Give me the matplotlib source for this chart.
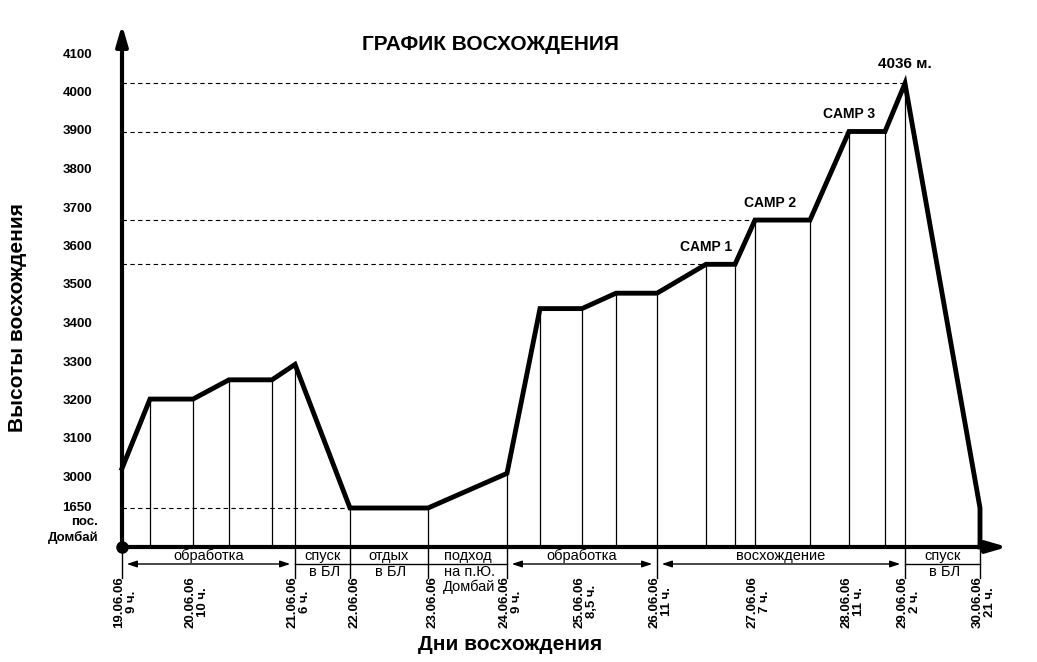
import matplotlib
matplotlib.use("Agg")
import matplotlib.pyplot as plt

# data
tick_labels = ["1650", "3000", "3100", "3200", "3300", "3400", "3500", "3600", "3700", "3800", "3900", "4000", "4100"]
profile_x = [122, 150, 193, 229, 272, 295, 350, 428, 507, 540, 582, 616, 657, 706, 735, 755, 810, 849, 885, 905, 980]
profile_alt = [3025, 3205, 3205, 3255, 3255, 3295, 1650, 1650, 3012, 3440, 3440, 3480, 3480, 3555, 3555, 3670, 3670, 3900, 3900, 4025, 1650]
dashed_alt = [1650, 3555, 3670, 3900, 4025]
dashed_to = [350, 735, 755, 849, 905]
camps = [("CAMP 1", 706, 3555), ("CAMP 2", 770, 3670), ("CAMP 3", 849, 3900)]
date_x = [122, 193, 295, 350, 428, 507, 582, 657, 755, 849, 905, 980]
date_labels = ["19.06.06\n9 ч.", "20.06.06\n10 ч.", "21.06.06\n6 ч.", "22.06.06", "23.06.06",
               "24.06.06\n9 ч.", "25.06.06\n8,5 ч.", "26.06.06\n11 ч.", "27.06.06\n7 ч.",
               "28.06.06\n11 ч.", "29.06.06\n2 ч.", "30.06.06\n21 ч."]
phase_bounds = [(122, 295), (295, 350), (350, 428), (428, 507), (507, 657), (657, 905), (905, 980)]
phase_labels = ["обработка", "спуск\nв БЛ", "отдых\nв БЛ", "подход\nна п.Ю.\nДомбай", "обработка", "восхождение", "спуск\nв БЛ"]
phase_arrows = [True, False, False, False, True, True, False]

BASE = 547
def ypix(a):
    if a <= 1650:
        return 508
    return 478 - (a - 3000) * 0.385

fig = plt.figure(figsize=(10.37, 6.62), dpi=100)
ax = fig.add_axes([0, 0, 1, 1])
ax.set_xlim(0, 1037); ax.set_ylim(662, 0); ax.axis("off")
fs = dict(family="Liberation Sans", weight="bold")

# axes
ax.annotate("", xy=(122, 22), xytext=(122, BASE), arrowprops=dict(arrowstyle="-|>,head_width=0.35,head_length=1.2", lw=3, color="black"))
ax.annotate("", xy=(1010, BASE), xytext=(118, BASE), arrowprops=dict(arrowstyle="-|>,head_width=0.35,head_length=1.2", lw=3, color="black"))
ax.plot([122], [BASE], "o", color="black", ms=8)

# y ticks
tick_pos = [508] + [478 - i * 38.5 for i in range(12)]
for lab, p in zip(tick_labels, tick_pos):
    ax.text(92, p, lab, ha="right", va="center", fontsize=9.5, **fs)
ax.text(98, 530, "пос.\nДомбай", ha="right", va="center", fontsize=9.5, linespacing=1.2, **fs)

# dashed lines
for a, x2 in zip(dashed_alt, dashed_to):
    ax.plot([122, x2], [ypix(a), ypix(a)], ls=(0, (4, 3)), lw=0.8, color="black")

# verticals
for x, a in zip(profile_x, profile_alt):
    ax.plot([x, x], [ypix(a), BASE], lw=0.9, color="black")

# profile
ax.plot(profile_x + [980], [ypix(a) for a in profile_alt] + [BASE], lw=3.5, color="black", solid_joinstyle="miter")

for name, x, a in camps:
    ax.text(x, ypix(a) - 10, name, ha="center", va="bottom", fontsize=10, **fs)
ax.text(905, ypix(4025) - 12, "4036 м.", ha="center", va="bottom", fontsize=11, **fs)

# phases
for (x1, x2), lab, arr in zip(phase_bounds, phase_labels, phase_arrows):
    ax.plot([x2, x2], [BASE, 578], lw=1, color="black")
    lines = lab.split("\n")
    if arr:
        ax.annotate("", xy=(x2 - 2, 564), xytext=(x1 + 2, 564), arrowprops=dict(arrowstyle="<|-|>,head_width=0.2,head_length=0.6", lw=1, color="black"))
    else:
        ax.plot([x1, x2], [564, 564], lw=1, color="black")
    ax.text((x1 + x2) / 2, 563, lines[0], ha="center", va="bottom", fontsize=10.5, family="Liberation Sans")
    if len(lines) > 1:
        ax.text((x1 + x2) / 2 + 2, 565, "\n".join(lines[1:]), ha="center", va="top", fontsize=10.5,
                family="Liberation Sans", linespacing=1.05)
ax.plot([122, 122], [BASE, 578], lw=1, color="black")

for x, lab in zip(date_x, date_labels):
    ax.text(x + 4, 576, lab, rotation=90, ha="center", va="top", fontsize=9.5, linespacing=1.1, **fs)

ax.text(490, 44, "ГРАФИК ВОСХОЖДЕНИЯ", ha="center", va="center", fontsize=15, **fs)
ax.text(510, 645, "Дни восхождения", ha="center", va="center", fontsize=15, **fs)
ax.text(18, 318, "Высоты восхождения", rotation=90, ha="center", va="center", fontsize=15, **fs)

fig.savefig("out.png", dpi=100)
